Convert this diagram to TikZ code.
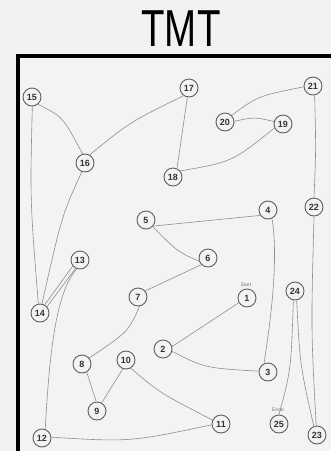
\documentclass[tikz,border=0pt]{standalone}
\usepackage{fontspec}
\setmainfont{Liberation Sans}
\definecolor{bgout}{HTML}{F2F2F2}
\definecolor{bgin}{HTML}{F3F3F3}
\definecolor{ringc}{HTML}{606060}
\definecolor{linec}{HTML}{8E8E8E}
\definecolor{numc}{HTML}{333333}
\begin{document}
\begin{tikzpicture}[x=1pt,y=-1pt,
  dot/.style={circle,draw=ringc,line width=0.9pt,minimum size=18pt,inner sep=0pt,
    fill=bgin,text=numc,font=\fontsize{9}{9}\selectfont\bfseries},
  trail/.style={draw=linec,line width=0.6pt},
  tag/.style={font=\fontsize{5}{5}\selectfont,text=black!55,inner sep=0pt}]
\useasboundingbox (0,0) rectangle (331,451);
\fill[bgout] (0,0) rectangle (331,451);
\fill[bgin] (18,56) rectangle (331,451);
\draw[black,line width=3.2pt] (18,460) -- (18,56) -- (340,56);
\node[font=\fontsize{52}{52}\selectfont,xscale=0.74,inner sep=0pt] (title) at (181,29) {TMT};
% nodes
\node[dot] (n1) at (247,298) {1};
\node[dot] (n2) at (163,349) {2};
\node[dot] (n3) at (268,372) {3};
\node[dot] (n4) at (268,210) {4};
\node[dot] (n5) at (146,220) {5};
\node[dot] (n6) at (208,258) {6};
\node[dot] (n7) at (138,297) {7};
\node[dot] (n8) at (82,364) {8};
\node[dot] (n9) at (97,411) {9};
\node[dot] (n10) at (126,360) {10};
\node[dot] (n11) at (221,424) {11};
\node[dot] (n12) at (42,438) {12};
\node[dot] (n13) at (80,260) {13};
\node[dot] (n14) at (40,313) {14};
\node[dot] (n15) at (32,97) {15};
\node[dot] (n16) at (85,163) {16};
\node[dot] (n17) at (189,88) {17};
\node[dot] (n18) at (173,177) {18};
\node[dot] (n19) at (283,124) {19};
\node[dot] (n20) at (225,122) {20};
\node[dot] (n21) at (313,86) {21};
\node[dot] (n22) at (314,207) {22};
\node[dot] (n23) at (317,435) {23};
\node[dot] (n24) at (295,291) {24};
\node[dot] (n25) at (279,424) {25};
\node[tag] (start) at (246,285) {Start};
\node[tag] (ende) at (278,410) {Ende};
% trail
\path[trail] (n1.210) -- (n2.15);
\path[trail] (n2.-15) .. controls (205,368) .. (n3.175);
\path[trail] (n3.115) .. controls (270,325) and (279,260) .. (n4.-65);
\path[trail] (n4.215) -- (n5.-40);
\path[trail] (n6.200) .. controls (178,252) .. (n5.-45);
\path[trail] (n6.225) -- (n7.40);
\path[trail] (n7.-80) .. controls (128,332) .. (n8.40);
\path[trail] (n8.-60) -- (n9.95);
\path[trail] (n9.60) -- (n10.-110);
\path[trail] (n10.-60) .. controls (160,393) .. (n11.155);
\path[trail] (n11.185) .. controls (130,442) .. (n12.5);
\path[trail] (n12.70) .. controls (50,340) and (58,290) .. (n13.-110);
\path[trail] (n13.-140) -- (n14.60);
\path[trail] (n13.-118) -- (n14.42);
\path[trail] (n14.100) .. controls (30,200) .. (n15.-88);
\path[trail] (n15.-50) .. controls (63,117) .. (n16.105);
\path[trail] (n16.-110) .. controls (62,215) .. (n14.78);
\path[trail] (n16.60) .. controls (130,122) .. (n17.-125);
\path[trail] (n17.-100) -- (n18.65);
\path[trail] (n18.40) .. controls (232,162) .. (n19.205);
\path[trail] (n19.165) .. controls (255,117) .. (n20.5);
\path[trail] (n20.45) .. controls (258,96) .. (n21.185);
\path[trail] (n21.-80) .. controls (316,150) .. (n22.90);
\path[trail] (n22.-90) .. controls (311,330) .. (n23.95);
\path[trail] (n24.-80) .. controls (300,365) .. (n23.110);
\path[trail] (n24.-100) .. controls (291,370) .. (n25.90);
\end{tikzpicture}
\end{document}
